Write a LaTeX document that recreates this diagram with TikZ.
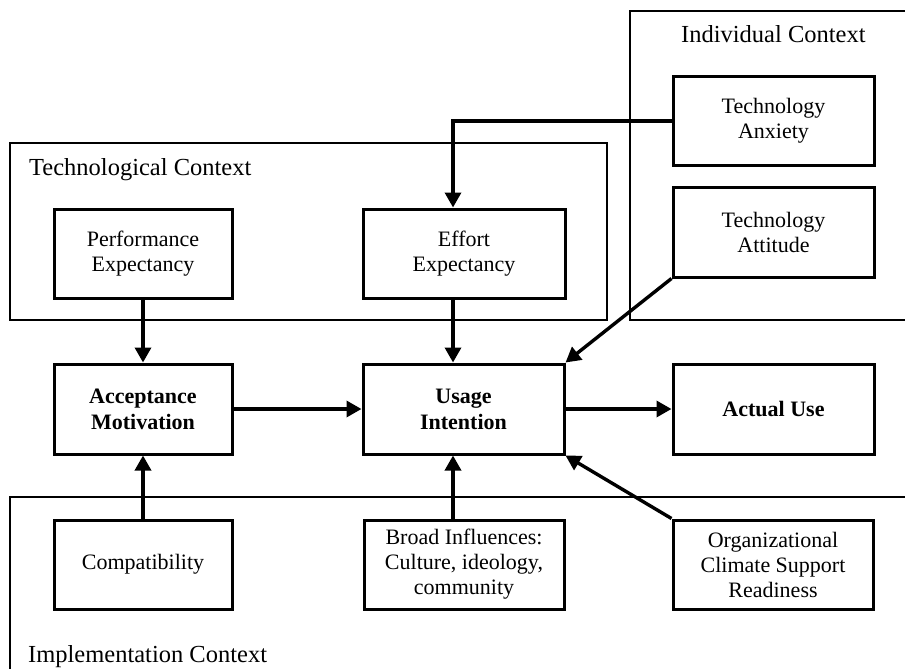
\documentclass[tikz,border=0pt]{standalone}
\usepackage{fontspec}
\setmainfont{Liberation Serif}
\usetikzlibrary{arrows.meta}
\begin{document}
\begin{tikzpicture}[x=1pt,y=-1pt,
  box/.style={draw, line width=3pt, align=center, inner sep=0pt,
    font=\fontsize{22}{25}\selectfont},
  boldbox/.style={box, font=\fontsize{22}{26}\selectfont\bfseries},
  ctxline/.style={draw, line width=1.3pt},
  ctxlabel/.style={font=\fontsize{24.5}{28}\selectfont, inner sep=0pt},
  arr/.style={line width=3.4pt, -{Triangle[length=15pt,width=16pt]}}]
\useasboundingbox (0,0) rectangle (905,669);

% context frames
\draw[ctxline] (10,143) rectangle (607,320);
\draw[ctxline] (910,11) -- (630,11) -- (630,320) -- (910,320);
\draw[ctxline] (910,497) -- (10,497) -- (10,675);

\node[ctxlabel, anchor=base west] (lt) at (29,175) {Technological Context};
\node[ctxlabel, anchor=base west] (li) at (681,43) {Individual Context};
\node[ctxlabel, anchor=base west] (lm) at (28,662) {Implementation Context};

% boxes
\node[box, minimum width=178pt, minimum height=89pt] (pe) at (143,253.5) {Performance\\Expectancy};
\node[box, minimum width=202pt, minimum height=89pt] (ee) at (464,253.5) {Effort\\Expectancy};
\node[box, minimum width=201pt, minimum height=88pt] (ta) at (773.5,121) {Technology\\Anxiety};
\node[box, minimum width=201pt, minimum height=90pt] (tt) at (773.5,232) {Technology\\Attitude};

\node[boldbox, minimum width=178pt, minimum height=90pt] (am) at (143,409) {Acceptance\\Motivation};
\node[boldbox, minimum width=201pt, minimum height=90pt] (ui) at (463.5,409) {Usage\\Intention};
\node[boldbox, minimum width=201pt, minimum height=90pt] (au) at (773.5,409) {Actual Use};

\node[box, minimum width=178pt, minimum height=89pt] (co) at (143,564.5) {Compatibility};
\node[box, minimum width=200pt, minimum height=89pt] (bi) at (464,564.5) {Broad Influences:\\Culture, ideology,\\community};
\node[box, minimum width=200pt, minimum height=89pt] (oc) at (773,564.5) {Organizational\\Climate Support\\Readiness};

% connectors
\coordinate (bend) at (453,121);
\draw[arr] (ta.west) -- (bend) -- (ee.north -| bend);
\draw[arr] (pe.south) -- (am.north);
\draw[arr] (ee.south -| bend) -- (ui.north -| bend);
\draw[arr] (tt.south west) -- (ui.north east);
\draw[arr] (am.east) -- (ui.west);
\draw[arr] (ui.east) -- (au.west);
\draw[arr] (co.north) -- (am.south);
\draw[arr] (bi.north -| bend) -- (ui.south -| bend);
\draw[arr] (oc.north west) -- (ui.south east);
\end{tikzpicture}
\end{document}
